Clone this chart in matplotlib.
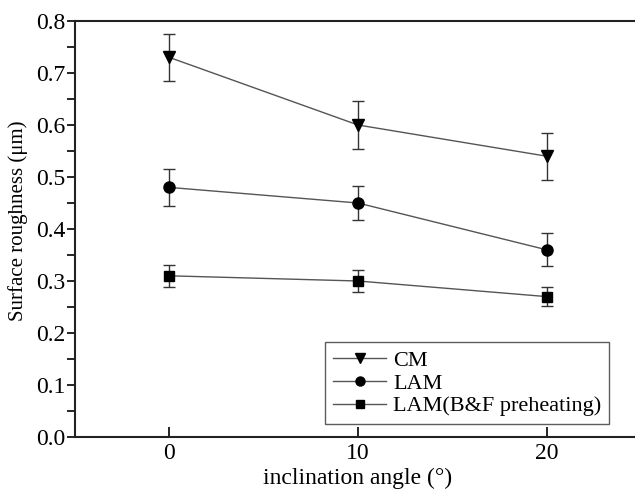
import matplotlib
matplotlib.use('Agg')
import matplotlib.pyplot as plt
from matplotlib.ticker import MultipleLocator, FormatStrFormatter
from matplotlib.lines import Line2D

plt.rcParams['font.family'] = 'Liberation Serif'

angle = [0, 10, 20]
cm_val  = [0.73, 0.60, 0.54]
cm_err  = [0.045, 0.046, 0.045]
lam_val = [0.48, 0.45, 0.36]
lam_err = [0.035, 0.033, 0.032]
bf_val  = [0.31, 0.30, 0.27]
bf_err  = [0.021, 0.022, 0.018]
labels  = ['CM', 'LAM', 'LAM(B&F preheating)']

fig = plt.figure(figsize=(6.35, 4.92), dpi=100)
ax = fig.add_axes([75/635, 55/492, 566/635, 416/492])

series = [(cm_val, cm_err, 'v', 9), (lam_val, lam_err, 'o', 8), (bf_val, bf_err, 's', 7)]
handles = []
for (y, e, m, ms), lab in zip(series, labels):
    ax.errorbar(angle, y, yerr=e, marker=m, markersize=ms, color='#555555',
                mfc='black', mec='black', lw=1.0, elinewidth=1.0,
                ecolor='#333333', capsize=4, capthick=1.0)
    handles.append(Line2D([], [], color='#555555', lw=1.0, marker=m,
                          markersize=ms - 1.5, mfc='black', mec='black', label=lab))

ax.set_xlim(-5, 25)
ax.set_ylim(0, 0.8)
ax.xaxis.set_major_locator(MultipleLocator(10))
ax.yaxis.set_major_locator(MultipleLocator(0.1))
ax.yaxis.set_minor_locator(MultipleLocator(0.05))
ax.yaxis.set_major_formatter(FormatStrFormatter('%.1f'))
ax.tick_params(axis='x', direction='in', length=7, width=1.2, labelsize=17, pad=4)
ax.tick_params(axis='y', which='both', direction='out', length=6, width=1.2,
               labelsize=17, pad=1)
for s in ax.spines.values():
    s.set_linewidth(1.5)
    s.set_color('#222222')

ax.set_xlabel('inclination angle (°)', fontsize=17, labelpad=3)
ax.set_ylabel('Surface roughness (μm)', fontsize=15)
ax.yaxis.set_label_coords(-0.083, 0.519)

leg = ax.legend(handles=handles, loc='lower left', bbox_to_anchor=(0.442, 0.031),
                fontsize=16, frameon=True, fancybox=False, edgecolor='#333333',
                handlelength=2.4, handletextpad=0.3, labelspacing=0.1,
                borderpad=0.35, borderaxespad=0)
leg.get_frame().set_linewidth(1.0)

fig.savefig('out.png', dpi=100)
